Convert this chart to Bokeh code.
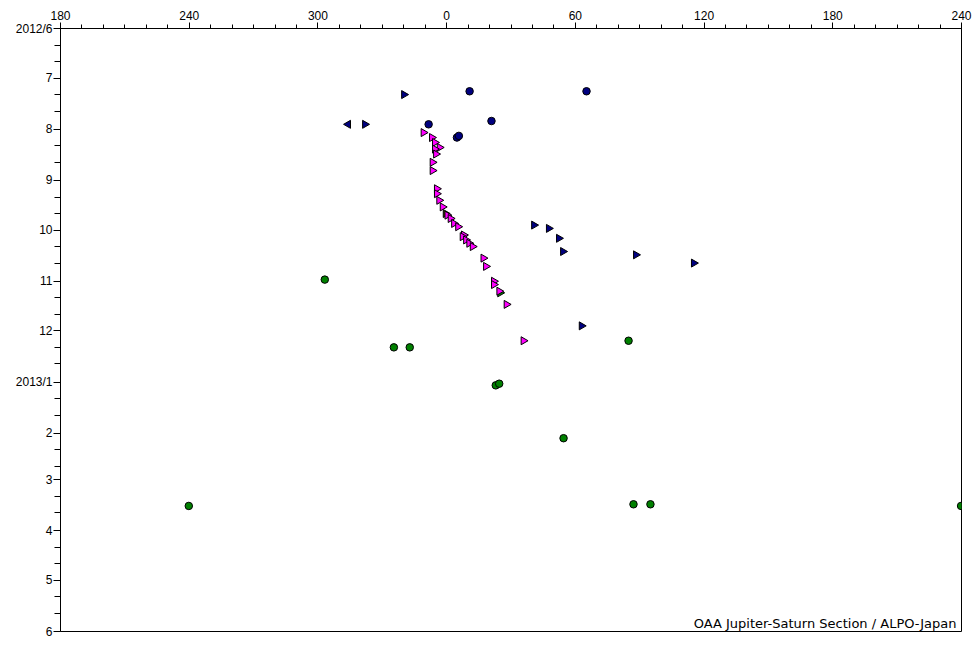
import math
import pandas as pd
from bokeh.plotting import figure
from bokeh.models import FixedTicker, Label, ColumnDataSource
from bokeh.embed import file_html
from bokeh.resources import INLINE

# ---------------- data (longitude in degrees 0-360, observation date) ----------------
navy_circle_dates = ["2012-07-09", "2012-07-09", "2012-07-29", "2012-07-27", "2012-08-06", "2012-08-05"]
navy_circle_lon = [10.7, 65.2, 351.6, 20.9, 4.8, 5.7]

navy_tri_dates = ["2012-07-11", "2012-07-29", "2012-09-28", "2012-09-30", "2012-10-06",
                  "2012-10-14", "2012-10-16", "2012-10-21", "2012-11-28"]
navy_tri_lon = [340.1, 321.9, 40.7, 47.6, 52.3, 54.2, 88.2, 115.2, 62.9]

navy_left_dates = ["2012-07-29"]
navy_left_lon = [314.1]

magenta_dates = ["2012-08-03", "2012-08-06", "2012-08-09", "2012-08-12", "2012-08-13", "2012-08-16",
                 "2012-08-21", "2012-08-26", "2012-09-06", "2012-09-09", "2012-09-13", "2012-09-17",
                 "2012-09-22", "2012-09-24", "2012-09-27", "2012-09-29", "2012-10-04", "2012-10-05",
                 "2012-10-07", "2012-10-09", "2012-10-11", "2012-10-18", "2012-10-23", "2012-11-01",
                 "2012-11-03", "2012-11-07", "2012-11-15", "2012-12-07"]
magenta_lon = [349.2, 353.1, 354.5, 356.7, 354.5, 355.0,
               353.4, 353.4, 355.4, 355.4, 356.5, 358.1,
               0.3, 1.8, 3.4, 5.3, 8.0, 7.4,
               9.0, 10.5, 12.1, 17.1, 18.3, 22.0,
               22.0, 24.5, 27.9, 35.8]

dark_tri_dates = ["2012-09-21"]
dark_tri_lon = [359.5]

green_tri_dates = ["2012-11-08"]
green_tri_lon = [24.9]

green_circle_dates = ["2012-10-31", "2012-12-11", "2012-12-11", "2013-01-03", "2013-01-02",
                      "2012-12-07", "2013-02-04", "2013-03-17", "2013-03-16", "2013-03-16"]
green_circle_lon = [303.2, 335.4, 342.8, 22.9, 24.5, 84.8, 54.5, 239.8, 87.1, 95.0]

x_tick_values = [-180, -120, -60, 0, 60, 120, 180, 240]
start_date = "2012-06-01"
end_date = "2013-06-01"

# ---------------- helpers ----------------
T0 = pd.Timestamp(start_date)


def to_day(d):
    return (pd.Timestamp(d) - T0).days


def source(dates, lons):
    xs, ys = [], []
    for d, lon in zip(dates, lons):
        day = to_day(d)
        if lon < 180:
            xs.append(lon); ys.append(day)
        elif lon <= 240:
            xs.append(lon - 360); ys.append(day)
            xs.append(lon); ys.append(day)
        else:
            xs.append(lon - 360); ys.append(day)
    return ColumnDataSource(dict(x=xs, y=ys))


months = pd.date_range(start_date, end_date, freq="MS")
month_days = [to_day(m) for m in months]
month_labels = {}
for m, d in zip(months, month_days):
    month_labels[d] = f"{m.year}/{m.month}" if (m.month == 1 or d == 0) else str(m.month)
minor_days = []
for m in months[:-1]:
    minor_days += [to_day(m) + 10, to_day(m) + 20]

p = figure(width=975, height=643, output_backend="svg", toolbar_location=None,
           x_range=(-180, 240), y_range=(to_day(end_date), 0),
           x_axis_location="above", min_border_left=60, min_border_right=14,
           min_border_top=28, min_border_bottom=12)
p.grid.visible = False
p.outline_line_color = "black"
p.outline_line_width = 1
p.background_fill_color = "white"
p.border_fill_color = "white"

font = "Liberation Sans"
xa = p.xaxis[0]
xa.ticker = FixedTicker(ticks=x_tick_values, minor_ticks=list(range(-180, 241, 10)))
xa.major_label_overrides = {v: str(v % 360) for v in x_tick_values}
xa.major_tick_out = 6
xa.major_tick_in = 0
xa.minor_tick_out = 4
xa.minor_tick_in = 0
xa.major_label_standoff = 3
xa.axis_line_color = "black"
xa.major_label_text_font = font
xa.major_label_text_font_size = "12px"
xa.major_label_text_color = "black"

ya = p.yaxis[0]
ya.ticker = FixedTicker(ticks=month_days, minor_ticks=minor_days)
ya.major_label_overrides = month_labels
ya.major_tick_out = 7
ya.major_tick_in = 0
ya.minor_tick_out = 6
ya.minor_tick_in = 0
ya.major_label_standoff = 1
ya.major_label_text_font = font
ya.major_label_text_font_size = "12px"
ya.major_label_text_color = "black"

right = -math.pi / 2
p.scatter("x", "y", source=source(green_circle_dates, green_circle_lon), marker="circle",
          size=7.5, fill_color="#008000", line_color="black", line_width=1)
p.scatter("x", "y", source=source(navy_circle_dates, navy_circle_lon), marker="circle",
          size=7.5, fill_color="#000080", line_color="black", line_width=1)
p.scatter("x", "y", source=source(navy_tri_dates, navy_tri_lon), marker="triangle", angle=right,
          size=8, fill_color="#000080", line_color="black", line_width=1)
p.scatter("x", "y", source=source(navy_left_dates, navy_left_lon), marker="triangle", angle=-right,
          size=8, fill_color="#000080", line_color="black", line_width=1)
p.scatter("x", "y", source=source(dark_tri_dates, dark_tri_lon), marker="triangle", angle=right,
          size=8, fill_color="#404000", line_color="black", line_width=1)
p.scatter("x", "y", source=source(green_tri_dates, green_tri_lon), marker="triangle", angle=right,
          size=8, fill_color="#008000", line_color="black", line_width=1)
p.scatter("x", "y", source=source(magenta_dates, magenta_lon), marker="triangle", angle=right,
          size=8, fill_color="#ff00ff", line_color="black", line_width=1)

p.add_layout(Label(x=240, y=to_day(end_date), x_offset=-5, y_offset=1,
                   text="OAA Jupiter-Saturn Section / ALPO-Japan", text_align="right",
                   text_baseline="bottom", text_font="DejaVu Sans", text_font_size="13px",
                   text_color="black"))

open("out.html", "w").write(file_html(p, INLINE))
